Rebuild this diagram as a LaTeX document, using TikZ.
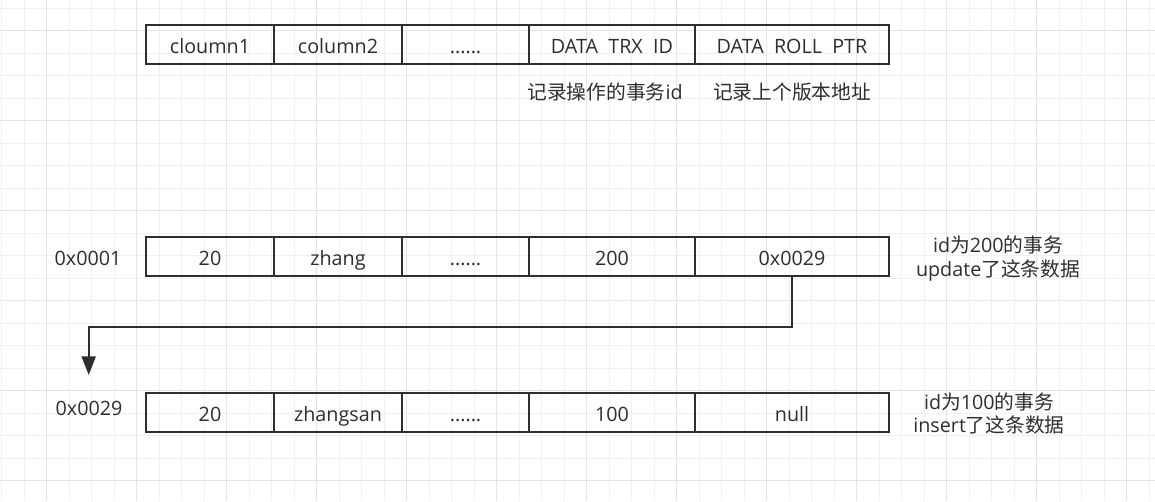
\documentclass[tikz,border=0pt]{standalone}
\usepackage{fontspec}
\setmainfont{Open Sans}
\newfontfamily\cjk{Noto Sans CJK SC}
\usetikzlibrary{arrows.meta,positioning}
\definecolor{ink}{HTML}{2E2E2E}
\definecolor{gridminor}{HTML}{F0F0F0}
\definecolor{gridmajor}{HTML}{E4E4E4}
\tikzset{
    cell/.style={draw=ink, line width=1.7pt, minimum height=29.4pt, inner sep=0pt, outer sep=0pt, text=ink, anchor=west, text height=15.2pt, text depth=2pt},
    txt/.style={text=ink, inner sep=0pt, align=center},
    link/.style={draw=ink, line width=1.6pt, -{Triangle[width=10.5pt,length=14pt]}}
}

\begin{document}
\begin{tikzpicture}[x=0.75pt, y=-0.75pt, font=\fontsize{14.8}{17.6}\selectfont]
                \useasboundingbox (0,0) rectangle (1155,501);
                \fill[white] (0,0) rectangle (1155,501);
                % Grid
                \foreach \i in {0,...,51} {
                    \draw[gridminor, line width=0.75pt] ({1.7+22.5*\i},0) -- ({1.7+22.5*\i},501);
                }
                \foreach \i in {0,...,22} {
                    \draw[gridminor, line width=0.75pt] (0,{8.2+22.5*\i}) -- (1155,{8.2+22.5*\i});
                }
                \foreach \i in {0,...,12} {
                    \draw[gridmajor, line width=0.75pt] ({46.7+90*\i},0) -- ({46.7+90*\i},501);
                }
                \foreach \i in {0,...,5} {
                    \draw[gridmajor, line width=0.75pt] (0,{30.7+90*\i}) -- (1155,{30.7+90*\i});
                }
                % Header row
                \foreach \c/\xl/\w/\cellText in {1/146/128/cloumn1, 2/274/128/column2, 3/402/127/{......}, 4/529/166/{DATA\ \ TRX\ \ ID}, 5/695/194/{DATA\ \ ROLL\ \ PTR}} {
                    \node[cell, minimum width=\w*0.75pt] (hd\c) at (\xl,44.5) {\cellText};
                }
                \node[txt] (trxNote) at (605,92) {{\cjk 记录操作的事务}id};
                \node[txt] (rollNote) at (792,92) {\cjk 记录上个版本地址};
                % Version 0x0001
                \foreach \c/\xl/\w/\cellText in {1/146/128/20, 2/274/128/zhang, 3/402/127/{......}, 4/529/166/200, 5/695/194/0x0029} {
                    \node[cell, minimum width=\w*0.75pt] (upd\c) at (\xl,256.4) {\cellText};
                }
                \node[txt] (addrA) at (88,258) {0x0001};
                \node[txt] (noteUpd) at (998,258.5) {id{\cjk 为}200{\cjk 的事务}\\update{\cjk 了这条数据}};
                % Version 0x0029
                \foreach \c/\xl/\w/\cellText in {1/146/128/20, 2/274/128/zhangsan, 3/402/127/{......}, 4/529/166/100, 5/695/194/null} {
                    \node[cell, minimum width=\w*0.75pt] (ins\c) at (\xl,412.5) {\cellText};
                }
                \node[txt] (addrB) at (89,408) {0x0029};
                \node[txt] (noteIns) at (989,413.5) {id{\cjk 为}100{\cjk 的事务}\\insert{\cjk 了这条数据}};
                % Roll pointer
                \coordinate (tipA) at (88.7,375);
                \draw[link] (upd5.south) -- ++(0,51.3) -| (tipA);
            \end{tikzpicture}
\end{document}
